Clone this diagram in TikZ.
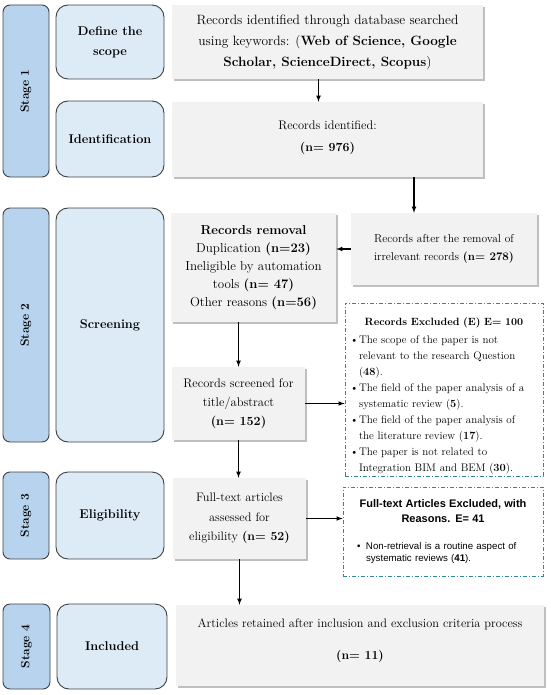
\documentclass[tikz,border=0pt]{standalone}
\usepackage{fontspec}
\newfontfamily\sansf{Liberation Sans}
\usetikzlibrary{shadows}
\definecolor{stageblue}{HTML}{B8D3EE}
\definecolor{phaseblue}{HTML}{DDEBF7}
\definecolor{recgray}{HTML}{F2F2F2}
\definecolor{exclteal}{RGB}{49,133,155}
\newcommand{\bitem}{\par\noindent\makebox[9pt][l]{\textbullet}}
\newcommand{\bnext}{\\\hspace*{9pt}}

\begin{document}
\begin{tikzpicture}[x=1pt, y=-1pt,
		stagebox/.style={draw=black!75, line width=0.9pt, fill=stageblue, rounded corners=7pt, rotate=90, font=\fontsize{12}{14}\selectfont\bfseries},
		phasebox/.style={draw=black!75, line width=0.9pt, fill=phaseblue, rounded corners=12pt, align=center, font=\fontsize{12.7}{20}\selectfont\bfseries},
		recbox/.style={fill=recgray, drop shadow={shadow xshift=1.5pt, shadow yshift=-2pt, opacity=0.5}, align=center, font=\fontsize{13}{19}\selectfont},
		exclbox/.style={draw=exclteal, line width=0.8pt, dash pattern=on 4pt off 2pt on 1pt off 2pt, fill=white},
		arr/.style={-latex, line width=1.1pt},
	]
	\path[use as bounding box] (0,0) rectangle (550,695);
	% stage 1
	\node[stagebox, minimum width=172, minimum height=46] (st1) at (26,91) {Stage 1};
	\node[phasebox, minimum width=108, minimum height=74] (scope) at (110,42) {Define the\\scope};
	\node[recbox, minimum width=311, minimum height=74, font=\fontsize{13.5}{21}\selectfont] (db) at (327.5,42) {Records identified through database searched\\using keywords: (\textbf{Web of Science, Google}\\\textbf{Scholar, ScienceDirect, Scopus})};
	\node[phasebox, minimum width=108, minimum height=76] (ident) at (110,139) {Identification};
	\node[recbox, minimum width=311, minimum height=75, font=\fontsize{12.4}{22}\selectfont] (idrec) at (327.5,139.5) {Records identified:\\\textbf{(n= 976)}\\[-16pt]\mbox{}};
	% stage 2
	\node[stagebox, minimum width=234, minimum height=46] (st2) at (26,325) {Stage 2};
	\node[phasebox, minimum width=108, minimum height=234] (screen) at (110,325) {Screening};
	\node[recbox, minimum width=165, minimum height=109, font=\fontsize{13}{18}\selectfont] (remov) at (253.5,267.5) {\textbf{Records removal}\\Duplication \textbf{(n=23)}\\Ineligible by automation\\tools \textbf{(n= 47)}\\Other reasons \textbf{(n=56)}};
	\node[recbox, minimum width=186, minimum height=72, font=\fontsize{11.5}{18}\selectfont] (after) at (444,249) {Records after the removal of\\irrelevant records \textbf{(n= 278)}};
	\node[recbox, minimum width=133, minimum height=73, font=\fontsize{12.5}{19}\selectfont] (scrd) at (238.5,403.5) {Records screened for\\title/abstract\\\textbf{(n= 152)}};
	\node[exclbox, minimum width=198, minimum height=173, inner ysep=0pt, text width=188pt, align=left, font=\fontsize{11}{16}\selectfont] (excl1) at (444,389.5) {\parskip=0pt{\centering\bfseries\fontsize{10.5}{14}\selectfont\rule{0pt}{21pt}Records Excluded (E) E= 100\par}\vspace{2pt}%
		\bitem The scope of the paper is not\bnext relevant to the research Question\bnext (\textbf{48}).
		\bitem The field of the paper analysis of a\bnext systematic review (\textbf{5}).
		\bitem The field of the paper analysis of\bnext the literature review (\textbf{17}).
		\bitem The paper is not related to\bnext Integration BIM and BEM (\textbf{30}).};
	% stage 3
	\node[stagebox, minimum width=87, minimum height=46] (st3) at (26,515.5) {Stage 3};
	\node[phasebox, minimum width=108, minimum height=87] (elig) at (110,515.5) {Eligibility};
	\node[recbox, minimum width=133, minimum height=81, font=\fontsize{12.3}{19.5}\selectfont] (full) at (239.5,518.5) {Full-text articles\\assessed for\\eligibility \textbf{(n= 52)}};
	\node[exclbox, minimum width=200, minimum height=89, text width=172pt, align=left, font=\sansf\fontsize{9.7}{12}\selectfont] (excl2) at (443,531.5) {\parskip=0pt{\centering\bfseries\fontsize{11}{15}\selectfont Full-text Articles Excluded, with\\Reasons. E= 41\par}\vspace{15pt}%
		\bitem Non-retrieval is a routine aspect of\bnext systematic reviews (\textbf{41}).};
	% stage 4
	\node[stagebox, minimum width=85, minimum height=47] (st4) at (26.5,646.5) {Stage 4};
	\node[phasebox, minimum width=110, minimum height=85] (incl) at (112,646.5) {Included};
	\node[recbox, minimum width=368, minimum height=81, font=\fontsize{12.3}{20}\selectfont] (art) at (360,645.5) {Articles retained after inclusion and exclusion criteria process\\[12pt]\textbf{(n= 11)}\\[-8pt]\mbox{}};
	% connectors
	\coordinate (drop) at ([xshift=-30pt]after.north);
	\draw[arr] ([xshift=-9pt]db.south) -- ([xshift=-9pt]idrec.north);
	\draw[arr] (drop |- idrec.south) -- (drop);
	\draw[arr] (after.west) -- (after.west -| remov.east);
	\draw[arr] (remov.south -| scrd) -- (scrd);
	\draw[arr] (scrd) -- (scrd -| excl1.west);
	\draw[arr] (scrd.south) -- (scrd.south |- full.north);
	\draw[arr] (full) -- (full -| excl2.west);
	\draw[arr] (full.south) -- (full.south |- art.north);
\end{tikzpicture}
\end{document}
